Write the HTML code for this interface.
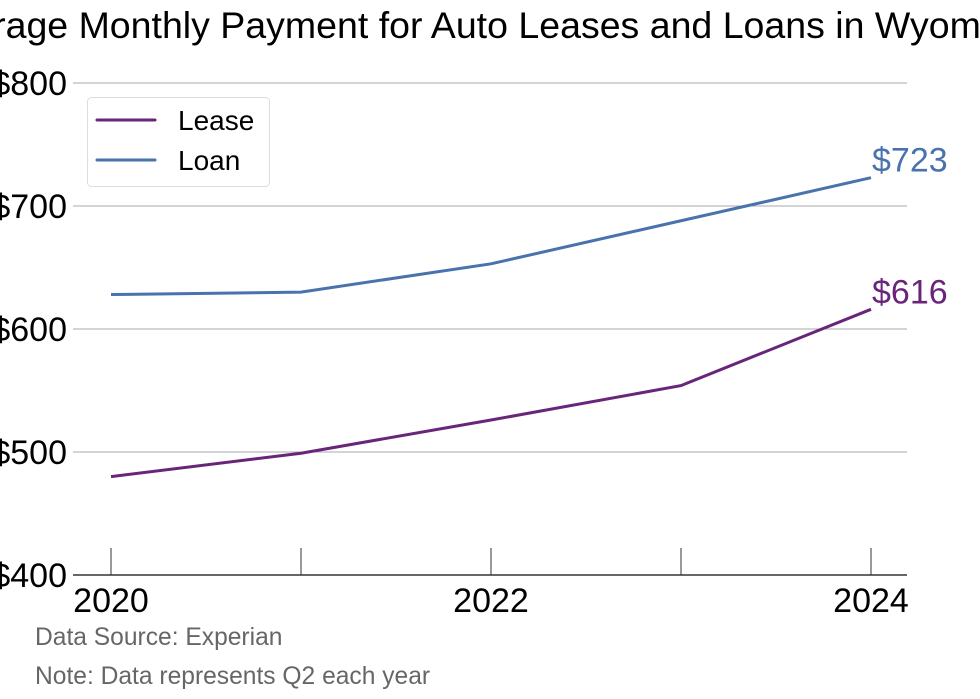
<!DOCTYPE html>
<html><head><meta charset="utf-8"><style>
body{margin:0;background:#fff;}
svg{display:block;font-family:"Liberation Sans",sans-serif;}
</style></head><body>
<svg id="chart" width="980" height="699" xmlns="http://www.w3.org/2000/svg">
<text x="480" y="38" font-size="37.5" text-anchor="middle" fill="#000">Average Monthly Payment for Auto Leases and Loans in Wyoming</text>
<g id="grid"></g>
<g id="series"></g>
<g>
<rect x="87.5" y="97.5" width="182" height="89" rx="4" fill="#fff" stroke="#ddd"/>
<line x1="97" y1="120" x2="155" y2="120" stroke="#68257a" stroke-width="3" stroke-linecap="round"/>
<text x="178" y="130" font-size="28">Lease</text>
<line x1="97" y1="160" x2="155" y2="160" stroke="#4a72ad" stroke-width="3" stroke-linecap="round"/>
<text x="178" y="170" font-size="28">Loan</text>
</g>
<text x="35" y="645" font-size="24.6" fill="#666">Data Source: Experian</text>
<text x="35" y="684" font-size="24.6" fill="#666">Note: Data represents Q2 each year</text>
</svg>
<script>
const years = [2020, 2021, 2022, 2023, 2024];
const leaseValues = [480, 499, 526, 554, 616];
const loanValues = [628, 630, 653, 688, 723];
const yTicks = [400, 500, 600, 700, 800];
const xTickLabels = [2020, 2022, 2024];

const NS = "http://www.w3.org/2000/svg";
const xS = y => 111 + (y - 2020) * 190;
const yS = v => 575 - (v - 400) * 1.23;
function mk(tag, attrs, parent, txt){const e=document.createElementNS(NS,tag);for(const k in attrs)e.setAttribute(k,attrs[k]);if(txt!=null)e.textContent=txt;parent.appendChild(e);return e;}
const grid = document.getElementById('grid');
const series = document.getElementById('series');
yTicks.forEach(v=>{
  if(v>400){const l=mk('line',{x1:73,x2:907,y1:yS(v),y2:yS(v),stroke:'#aaa','stroke-width':1},grid);
  
  }
  const t=mk('text',{x:67,y:yS(v)+12,'font-size':34,'text-anchor':'end'},grid,'$'+v);
  
  
});
const ax=mk('line',{x1:73,x2:907,y1:575,y2:575,stroke:'#333','stroke-width':1.5},grid);


years.forEach(y=>{
  const tk=mk('line',{x1:xS(y),x2:xS(y),y1:548,y2:575,stroke:'#333','stroke-width':1},grid);
  
  
});
xTickLabels.forEach(y=>{
  const t=mk('text',{x:xS(y),y:612,'font-size':34,'text-anchor':'middle'},grid,String(y));
  
  
});
function drawLine(vals,color,name){
  const p=mk('polyline',{points:vals.map((v,i)=>xS(years[i])+','+yS(v)).join(' '),fill:'none',stroke:color,'stroke-width':3},series);
  
  
  const last=vals[vals.length-1];
  const t=mk('text',{x:xS(years[years.length-1])+1,y:yS(last)-6,'font-size':34,fill:color},series,'$'+last);
  
  
}
drawLine(loanValues,'#4a72ad','loan');
drawLine(leaseValues,'#68257a','lease');
</script>
</body></html>
